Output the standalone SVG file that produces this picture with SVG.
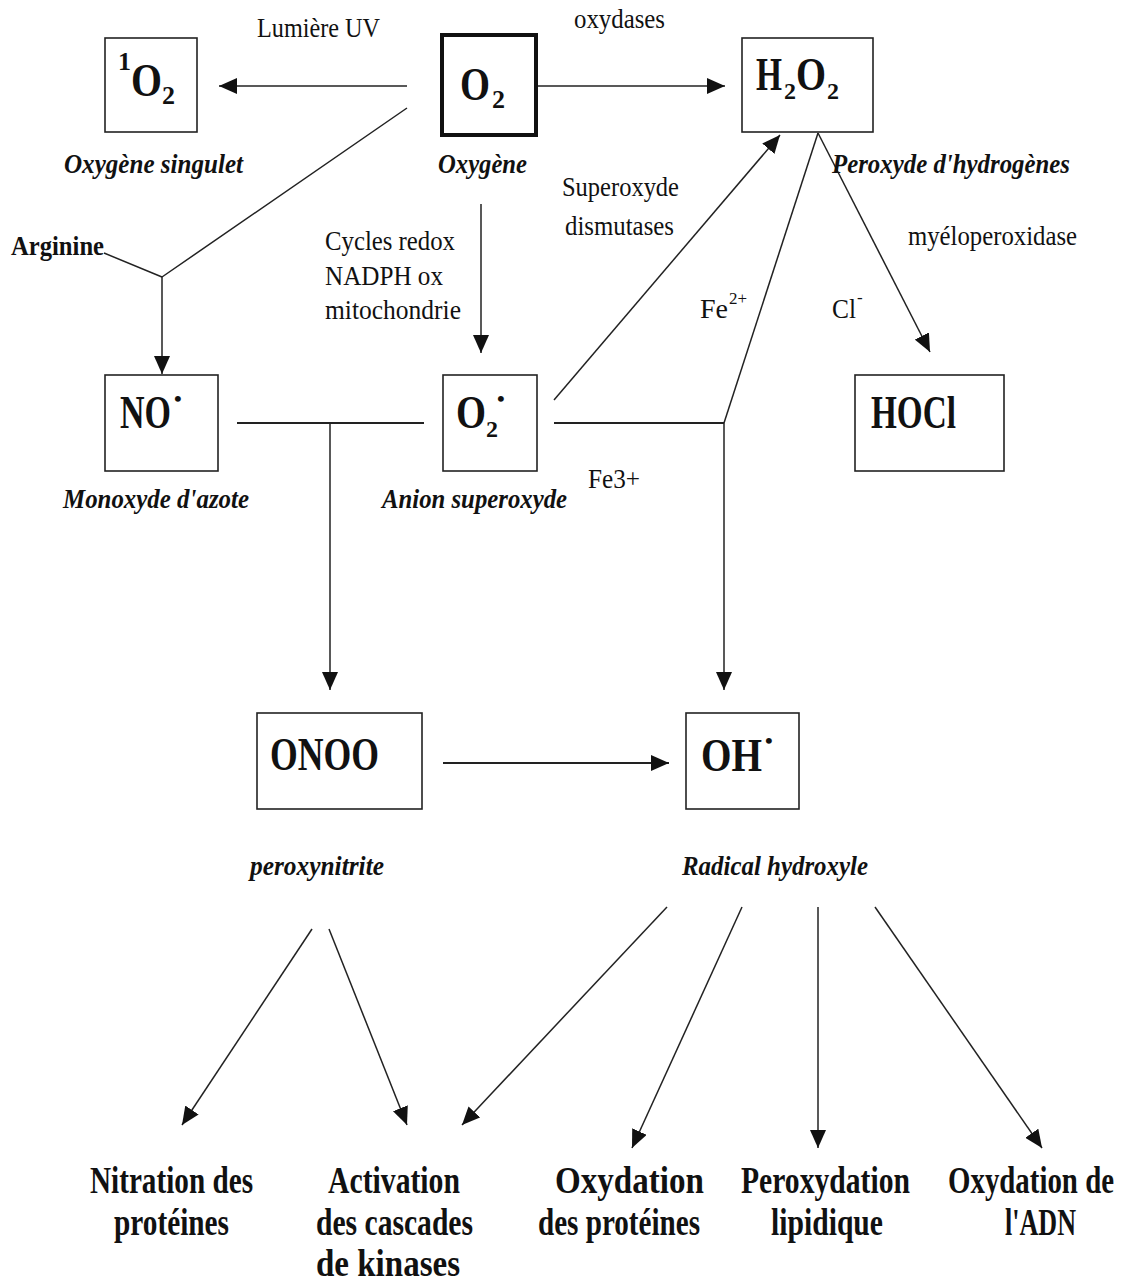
<svg xmlns="http://www.w3.org/2000/svg" width="1122" height="1283" viewBox="0 0 1122 1283">
<defs>
<style>
text{font-family:"Liberation Serif","Times New Roman",serif;fill:#111}
.big{font-size:46px;font-weight:bold}
.sub{font-size:26px;font-weight:bold}
.lab{font-size:28px}
.it{font-size:27px;font-weight:bold;font-style:italic}
.bot{font-size:37px;font-weight:bold}
.box{fill:#fff;stroke:#222;stroke-width:1.6}
.c{fill:none;stroke:#222;stroke-width:1.5}
</style>
<marker id="ah" markerWidth="18" markerHeight="16" refX="18" refY="8" orient="auto" markerUnits="userSpaceOnUse"><path d="M0,0 L18,8 L0,16 z" fill="#111"/></marker>
</defs>
<rect width="1122" height="1283" fill="#fff"/>

<g id="connectors">
<path class="c" d="M407,86 L219,86" marker-end="url(#ah)"/>
<path class="c" d="M538,86 L725,86" marker-end="url(#ah)"/>
<path class="c" d="M407,108 L162,277 M104,253 L162,277"/>
<path class="c" d="M162,277 L162,374" marker-end="url(#ah)"/>
<path class="c" d="M481,204 L481,353" marker-end="url(#ah)"/>
<path class="c" style="stroke-width:2" d="M237,423 L424,423"/>
<path class="c" d="M330,423 L330,690" marker-end="url(#ah)"/>
<path class="c" style="stroke-width:2" d="M554,423 L724,423"/>
<path class="c" d="M818,133 L724,423"/>
<path class="c" d="M724,423 L724,690" marker-end="url(#ah)"/>
<path class="c" d="M554,400 L780,135" marker-end="url(#ah)"/>
<path class="c" d="M818,133 L930,352" marker-end="url(#ah)"/>
<path class="c" style="stroke-width:2" d="M443,763 L669,763" marker-end="url(#ah)"/>
<path class="c" d="M312,929 L182,1125" marker-end="url(#ah)"/>
<path class="c" d="M329,929 L407,1125" marker-end="url(#ah)"/>
<path class="c" d="M667,907 L462,1125" marker-end="url(#ah)"/>
<path class="c" d="M742,907 L632,1148" marker-end="url(#ah)"/>
<path class="c" d="M818,907 L818,1148" marker-end="url(#ah)"/>
<path class="c" d="M875,907 L1042,1148" marker-end="url(#ah)"/>
</g>

<g id="labels">
<text class="lab" x="257" y="37" textLength="123" lengthAdjust="spacingAndGlyphs">Lumière UV</text>
<text class="lab" x="574" y="28" textLength="91" lengthAdjust="spacingAndGlyphs">oxydases</text>
<text class="lab" x="562" y="196" textLength="117" lengthAdjust="spacingAndGlyphs">Superoxyde</text>
<text class="lab" x="565" y="235" textLength="109" lengthAdjust="spacingAndGlyphs">dismutases</text>
<text class="lab" x="908" y="245" textLength="169" lengthAdjust="spacingAndGlyphs">myéloperoxidase</text>
<text class="lab" x="11" y="255" textLength="93" lengthAdjust="spacingAndGlyphs" font-weight="bold">Arginine</text>
<text class="lab" x="325" y="250" textLength="130" lengthAdjust="spacingAndGlyphs">Cycles redox</text>
<text class="lab" x="325" y="285" textLength="118" lengthAdjust="spacingAndGlyphs">NADPH ox</text>
<text class="lab" x="325" y="319" textLength="136" lengthAdjust="spacingAndGlyphs">mitochondrie</text>
<text class="lab"><tspan x="700" y="318" textLength="28" lengthAdjust="spacingAndGlyphs">Fe</tspan><tspan x="729" y="304" font-size="17">2+</tspan></text>
<text class="lab"><tspan x="832" y="318" textLength="24" lengthAdjust="spacingAndGlyphs">Cl</tspan><tspan x="857" y="303" font-size="17">-</tspan></text>
<text class="lab" x="588" y="488" textLength="52" lengthAdjust="spacingAndGlyphs">Fe3+</text>
</g>

<g id="node-1O2">
<rect class="box" x="105" y="38" width="92" height="94"/>
<text class="big"><tspan x="118" y="70" class="sub">1</tspan><tspan x="131" y="96" textLength="31" lengthAdjust="spacingAndGlyphs">O</tspan><tspan x="162" y="104" class="sub">2</tspan></text>
<text class="it" x="64" y="173" textLength="179" lengthAdjust="spacingAndGlyphs">Oxygène singulet</text>
</g>

<g id="node-O2">
<rect x="442" y="35" width="94" height="100" fill="#fff" stroke="#111" stroke-width="4"/>
<text class="big"><tspan x="460" y="100" textLength="30" lengthAdjust="spacingAndGlyphs">O</tspan><tspan x="492" y="108" class="sub">2</tspan></text>
<text class="it" x="438" y="173" textLength="89" lengthAdjust="spacingAndGlyphs">Oxygène</text>
</g>

<g id="node-H2O2">
<rect class="box" x="742" y="38" width="131" height="94"/>
<text class="big"><tspan x="756" y="90" textLength="26" lengthAdjust="spacingAndGlyphs">H</tspan><tspan x="784" y="99" font-size="24">2</tspan><tspan x="796" y="90" textLength="30" lengthAdjust="spacingAndGlyphs">O</tspan><tspan x="827" y="99" font-size="24">2</tspan></text>
<text class="it" x="832" y="173" textLength="238" lengthAdjust="spacingAndGlyphs">Peroxyde d'hydrogènes</text>
</g>

<g id="node-NO">
<rect class="box" x="105" y="375" width="113" height="96"/>
<text class="big"><tspan x="120" y="428" textLength="51" lengthAdjust="spacingAndGlyphs">NO</tspan><tspan x="174" y="406" font-size="22">•</tspan></text>
<text class="it" x="63" y="508" textLength="186" lengthAdjust="spacingAndGlyphs">Monoxyde d'azote</text>
</g>

<g id="node-O2rad">
<rect class="box" x="443" y="375" width="94" height="96"/>
<text class="big"><tspan x="456" y="428" textLength="30" lengthAdjust="spacingAndGlyphs">O</tspan><tspan x="486" y="437" font-size="24">2</tspan><tspan x="497" y="406" font-size="22">•</tspan></text>
<text class="it" x="382" y="508" textLength="185" lengthAdjust="spacingAndGlyphs">Anion superoxyde</text>
</g>

<g id="node-HOCl">
<rect class="box" x="855" y="375" width="149" height="96"/>
<text class="big" x="871" y="428" textLength="85" lengthAdjust="spacingAndGlyphs">HOCl</text>
</g>

<g id="node-ONOO">
<rect class="box" x="257" y="713" width="165" height="96"/>
<text class="big" x="270" y="770" textLength="109" lengthAdjust="spacingAndGlyphs">ONOO</text>
<text class="it" x="250" y="875" textLength="134" lengthAdjust="spacingAndGlyphs">peroxynitrite</text>
</g>

<g id="node-OH">
<rect class="box" x="686" y="713" width="113" height="96"/>
<text class="big"><tspan x="701" y="771" textLength="61" lengthAdjust="spacingAndGlyphs">OH</tspan><tspan x="765" y="748" font-size="22">•</tspan></text>
<text class="it" x="682" y="875" textLength="186" lengthAdjust="spacingAndGlyphs">Radical hydroxyle</text>
</g>

<g id="node-nitration">
<text class="bot" x="90" y="1193" textLength="163" lengthAdjust="spacingAndGlyphs">Nitration des</text>
<text class="bot" x="114" y="1235" textLength="115" lengthAdjust="spacingAndGlyphs">protéines</text>
</g>
<g id="node-activation">
<text class="bot" x="328" y="1193" textLength="132" lengthAdjust="spacingAndGlyphs">Activation</text>
<text class="bot" x="316" y="1235" textLength="157" lengthAdjust="spacingAndGlyphs">des cascades</text>
<text class="bot" x="316" y="1276" textLength="144" lengthAdjust="spacingAndGlyphs">de kinases</text>
</g>
<g id="node-oxprot">
<text class="bot" x="555" y="1193" textLength="149" lengthAdjust="spacingAndGlyphs">Oxydation</text>
<text class="bot" x="538" y="1235" textLength="162" lengthAdjust="spacingAndGlyphs">des protéines</text>
</g>
<g id="node-perox">
<text class="bot" x="741" y="1193" textLength="169" lengthAdjust="spacingAndGlyphs">Peroxydation</text>
<text class="bot" x="771" y="1235" textLength="112" lengthAdjust="spacingAndGlyphs">lipidique</text>
</g>
<g id="node-adn">
<text class="bot" x="948" y="1193" textLength="166" lengthAdjust="spacingAndGlyphs">Oxydation de</text>
<text class="bot" x="1005" y="1235" textLength="71" lengthAdjust="spacingAndGlyphs">l'ADN</text>
</g>
</svg>
